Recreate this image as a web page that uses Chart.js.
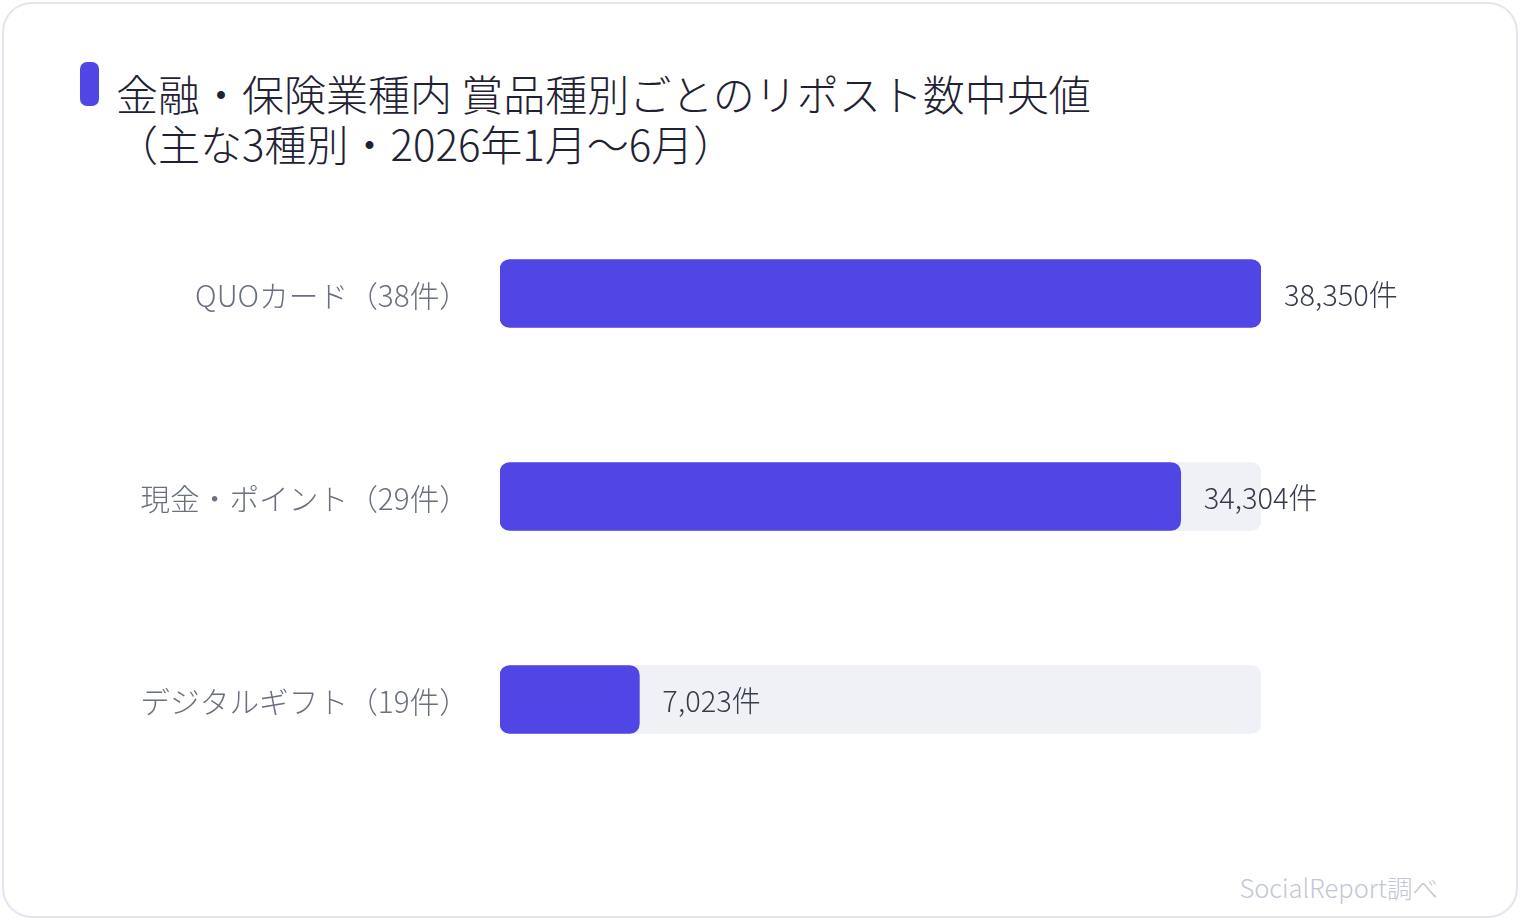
<!DOCTYPE html>
<html lang="ja">
<head>
<meta charset="utf-8">
<script src="https://cdn.jsdelivr.net/npm/chart.js@4.4.1/dist/chart.umd.min.js"></script>
<style>
  html, body { margin: 0; padding: 0; background: #ffffff; }
  body { width: 1520px; height: 920px; position: relative; overflow: hidden;
         font-family: "Noto Sans CJK JP Light", "Noto Sans CJK JP", "Noto Sans", sans-serif; }
  .card { position: absolute; left: 2px; top: 2px; width: 1512px; height: 912px;
          border: 2px solid #e4e6f0; border-radius: 30px; background: #fff; }
  .accent { position: absolute; left: 80px; top: 62px; width: 19px; height: 44px;
            background: #4f46e5; border-radius: 7px; }
  .title { position: absolute; left: 116px; top: 68px; font-size: 42px; line-height: 50px;
           font-weight: 300; color: #1f2233; white-space: pre; letter-spacing: 0; }
  .footer { position: absolute; right: 82px; top: 868px; font-size: 25.5px; font-weight: 300;
            color: #c2c6d6; }
  .chartbox { position: absolute; left: 0; top: 192px; width: 1520px; height: 609px; }
</style>
</head>
<body>
<div class="card"></div>
<div class="accent"></div>
<div class="title">金融・保険業種内 賞品種別ごとのリポスト数中央値
（主な3種別・2026年1月〜6月）</div>
<div class="chartbox"><canvas id="c"></canvas></div>
<div class="footer">SocialReport調べ</div>
<script>
const categories = ["QUOカード（38件）", "現金・ポイント（29件）", "デジタルギフト（19件）"];
const medianValues = [38350, 34304, 7023];
const valueLabels = ["38,350件", "34,304件", "7,023件"];
const axisMax = 38350;
const trackValues = categories.map(() => axisMax);

const FONT = '"Noto Sans CJK JP Light", "Noto Sans CJK JP", "Noto Sans", sans-serif';

const valueLabelPlugin = {
  id: 'valueLabels',
  afterDatasetsDraw(chart) {
    const ctx = chart.ctx;
    const meta = chart.getDatasetMeta(0);
    ctx.save();
    ctx.font = '300 29px ' + FONT;
    ctx.fillStyle = '#373b4a';
    ctx.textAlign = 'left';
    ctx.textBaseline = 'middle';
    meta.data.forEach((bar, i) => {
      ctx.fillText(valueLabels[i], bar.x + 23, bar.y + 1);
    });
    ctx.restore();
  }
};

new Chart(document.getElementById('c'), {
  type: 'bar',
  data: {
    labels: categories,
    datasets: [
      {
        data: medianValues,
        backgroundColor: '#4f46e5',
        borderRadius: 10,
        borderSkipped: false,
        barThickness: 68,
        grouped: false,
        order: 1
      },
      {
        data: trackValues,
        backgroundColor: '#f0f1f7',
        borderRadius: 10,
        borderSkipped: false,
        barThickness: 68,
        grouped: false,
        order: 2
      }
    ]
  },
  options: {
    indexAxis: 'y',
    responsive: true,
    maintainAspectRatio: false,
    animation: false,
    layout: { padding: { left: 0, right: 259, top: 0, bottom: 0 } },
    plugins: { legend: { display: false }, tooltip: { enabled: false }, title: { display: false } },
    scales: {
      x: { min: 0, max: axisMax, display: false },
      y: {
        grid: { display: false, drawTicks: false },
        border: { display: false },
        ticks: {
          padding: 31,
          labelOffset: 2,
          color: '#6b7080',
          font: { family: FONT, size: 29.7, weight: '300' }
        },
        afterFit(scale) { scale.width = 500; scale.paddingTop = 0; scale.paddingBottom = 0; }
      }
    }
  },
  plugins: [valueLabelPlugin]
});
</script>
</body>
</html>
